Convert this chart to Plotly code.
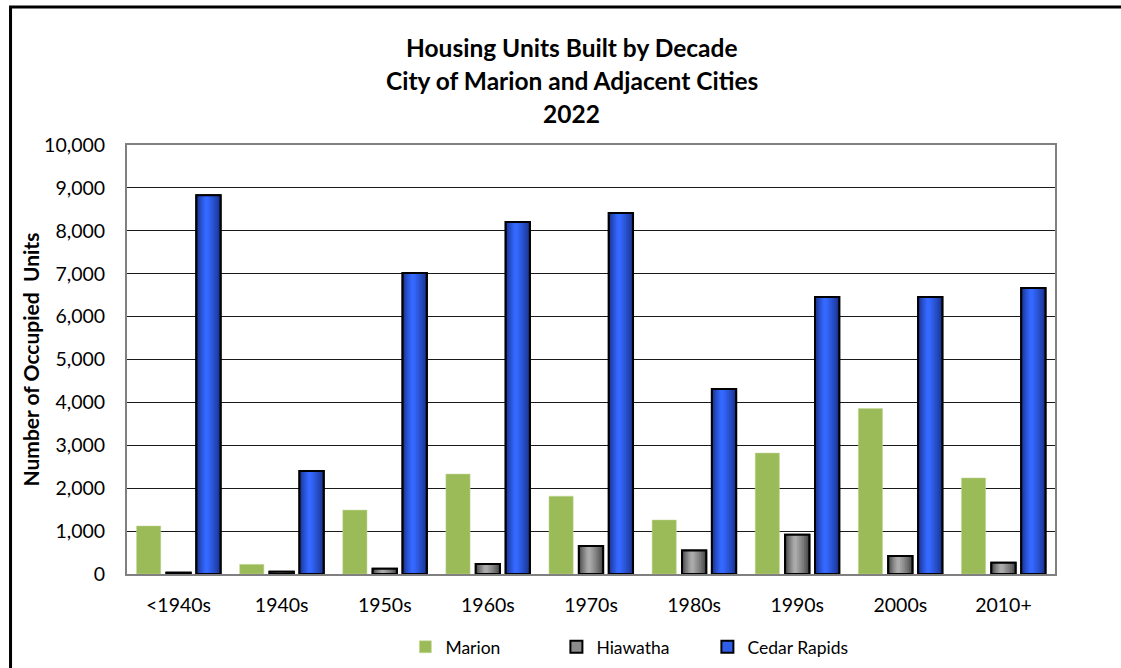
import plotly.graph_objects as go

decades = ["<1940s", "1940s", "1950s", "1960s", "1970s", "1980s", "1990s", "2000s", "2010+"]
marion = [1120, 225, 1490, 2330, 1815, 1260, 2820, 3855, 2240]
hiawatha = [30, 55, 125, 235, 650, 545, 915, 420, 265]
cedar_rapids = [8830, 2400, 7015, 8205, 8415, 4310, 6455, 6455, 6665]
y_ticks = [0, 1000, 2000, 3000, 4000, 5000, 6000, 7000, 8000, 9000, 10000]

FONT = "Lato"
x = list(range(len(decades)))
bar_w = 0.235
step = 0.29


def lerp(c1, c2, t):
    return "rgb(%d,%d,%d)" % tuple(round(a + (b - a) * t) for a, b in zip(c1, c2))


fig = go.Figure()

# Marion: flat green bars
fig.add_trace(go.Bar(
    x=x, y=marion, name="Marion", width=bar_w, offset=-step - bar_w / 2,
    marker=dict(color="#9bbb59", line=dict(color="#c5d99a", width=0.5)),
))

# Bars with a cylindrical shading: a base bar, narrower lighter strips, then an outline on top
shaded = [
    ("Hiawatha", hiawatha, 0.0, (70, 70, 70), (170, 170, 170), "#8c8c8c"),
    ("Cedar Rapids", cedar_rapids, step, (25, 50, 140), (52, 104, 255), "#2f5fe8"),
]
n_strips = 7
for name, vals, shift, edge, mid, legend_col in shaded:
    fig.add_trace(go.Bar(
        x=x, y=vals, name=name, width=bar_w, offset=shift - bar_w / 2,
        marker=dict(color=legend_col, line=dict(color="black", width=2)),
        legendgroup=name,
    ))
    fig.add_trace(go.Bar(
        x=x, y=vals, width=bar_w, offset=shift - bar_w / 2, showlegend=False,
        marker=dict(color=lerp(edge, mid, 0.0), line=dict(width=0)),
        legendgroup=name, hoverinfo="skip",
    ))
    for i in range(1, n_strips + 1):
        t = i / n_strips
        w = bar_w * (1 - 0.85 * t)
        # highlight sits slightly left of centre
        c = shift - bar_w * 0.08 * t
        fig.add_trace(go.Bar(
            x=x, y=vals, width=w, offset=c - w / 2, showlegend=False,
            marker=dict(color=lerp(edge, mid, t ** 0.8), line=dict(width=0)),
            legendgroup=name, hoverinfo="skip",
        ))
    fig.add_trace(go.Bar(
        x=x, y=vals, width=bar_w, offset=shift - bar_w / 2, showlegend=False,
        marker=dict(color="rgba(0,0,0,0)", line=dict(color="black", width=2)),
        legendgroup=name, hoverinfo="skip",
    ))

titles = ["Housing Units Built by Decade", "City of Marion and Adjacent Cities", "2022"]
for i, t in enumerate(titles):
    fig.add_annotation(
        text="<b>%s</b>" % t, xref="paper", yref="paper",
        x=0.4795, y=1.228 - i * 0.0775, xanchor="center", yanchor="middle",
        showarrow=False, font=dict(family=FONT, size=24.5, color="black"),
    )

# y-axis title, placed as a rotated annotation
fig.add_annotation(
    text="<b>Number of Occupied&nbsp; Units</b>", xref="paper", yref="paper",
    x=-0.1045, y=0.5, xanchor="center", yanchor="middle", textangle=-90,
    showarrow=False, font=dict(family=FONT, size=21, color="black"),
)

# outer chart frame
fig.add_shape(type="rect", xref="paper", yref="paper",
              x0=-0.1255, x1=1.2, y0=-0.4, y1=1.3217,
              line=dict(color="black", width=3), fillcolor="rgba(0,0,0,0)", layer="below")

fig.update_layout(
    width=1121, height=668,
    margin=dict(l=127, r=66, t=145, b=94, autoexpand=False),
    barmode="overlay",
    plot_bgcolor="white", paper_bgcolor="white",
    font=dict(family=FONT, size=19.5, color="black"),
    showlegend=True,
    legend=dict(orientation="h", x=0.300, y=-0.170, xanchor="left", yanchor="middle",
                font=dict(family=FONT, size=17.5), entrywidth=106, itemwidth=30,
                traceorder="normal"),
    xaxis=dict(
        range=[-0.5, len(decades) - 0.5], tickmode="array", tickvals=x, ticktext=decades,
        showgrid=False, showline=True, linecolor="#808080", linewidth=2, mirror=True,
        ticks="", ticklabelstandoff=13, tickfont=dict(family=FONT, size=19.5),
        zeroline=False, automargin=False,
    ),
    yaxis=dict(
        range=[0, 10000], tickmode="array", tickvals=y_ticks,
        ticktext=[f"{v:,}" for v in y_ticks],
        showgrid=True, gridcolor="#1a1a1a", gridwidth=1,
        showline=True, linecolor="#808080", linewidth=2, mirror=True,
        ticks="", ticklabelstandoff=16, tickfont=dict(family=FONT, size=19.5),
        zeroline=False, automargin=False,
    ),
)

fig.write_html("out.html")
